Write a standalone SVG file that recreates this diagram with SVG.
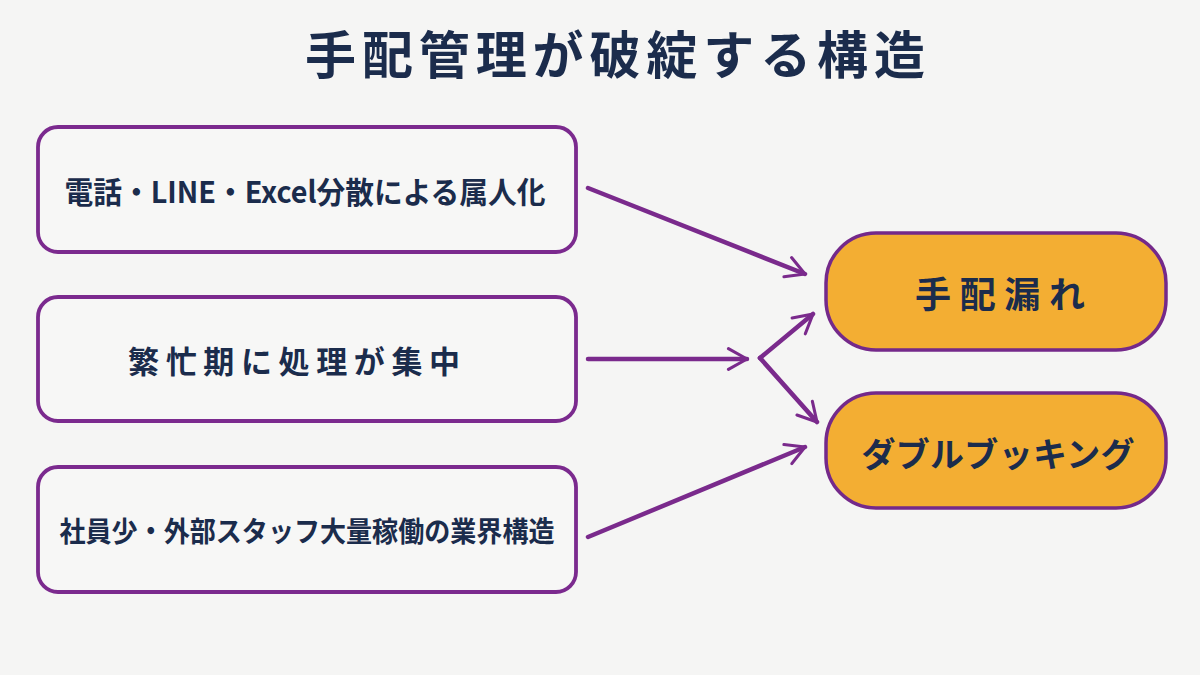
<svg xmlns="http://www.w3.org/2000/svg" width="1200" height="675" viewBox="0 0 1200 675">
<style>
.t{font-family:"Noto Sans CJK JP","Noto Sans",sans-serif;fill:#1b2c4c;font-weight:700;text-anchor:middle;dominant-baseline:central}
.src{fill:#f7f7f6;stroke:#7b2a8e;stroke-width:3.8}
.dst{fill:#f3ae33;stroke:#74298a;stroke-width:3.5}
.c{fill:none;stroke:#7a2a8c;stroke-width:4.5;stroke-linecap:round;stroke-linejoin:round}
</style>
<defs>
<marker id="ah" viewBox="0 0 12 12" refX="10" refY="6" markerWidth="5.5" markerHeight="5.5" orient="auto" markerUnits="strokeWidth">
<path d="M1,1 L10,6 L1,11" fill="none" stroke="#7a2a8c" stroke-width="1.5" stroke-linecap="round" stroke-linejoin="round"/>
</marker>
</defs>
<rect width="1200" height="675" fill="#f5f5f4"/>
<g id="title">
<text class="t" x="615" y="52" font-size="51" textLength="620" lengthAdjust="spacing">手配管理が破綻する構造</text>
</g>
<g id="n1">
<rect class="src" x="38" y="127" width="538" height="125" rx="20"/>
<text class="t" x="305" y="190" font-size="30" textLength="481" lengthAdjust="spacingAndGlyphs">電話・LINE・Excel分散による属人化</text>
</g>
<g id="n2">
<rect class="src" x="38" y="297" width="538" height="124" rx="20"/>
<text class="t" x="294" y="359" font-size="31" textLength="332" lengthAdjust="spacing">繁忙期に処理が集中</text>
</g>
<g id="n3">
<rect class="src" x="38" y="467" width="538" height="125" rx="20"/>
<text class="t" x="307" y="530" font-size="28" textLength="495" lengthAdjust="spacingAndGlyphs">社員少・外部スタッフ大量稼働の業界構造</text>
</g>
<g id="n4">
<rect class="dst" x="826" y="233" width="340" height="117" rx="50"/>
<text class="t" x="1000" y="292" font-size="36" textLength="170" lengthAdjust="spacing">手配漏れ</text>
</g>
<g id="n5">
<rect class="dst" x="826" y="393" width="340" height="115" rx="50"/>
<text class="t" x="998" y="452" font-size="34" textLength="273" lengthAdjust="spacing">ダブルブッキング</text>
</g>
<g id="connectors">
<path class="c" d="M588,188 L805,274" marker-end="url(#ah)"/>
<path class="c" d="M588,359 L747,359" marker-end="url(#ah)"/>
<path class="c" d="M760,358 L813,314" marker-end="url(#ah)"/>
<path class="c" d="M760,358 L817,422" marker-end="url(#ah)"/>
<path class="c" d="M588,537 L805,447" marker-end="url(#ah)"/>
</g>
</svg>
